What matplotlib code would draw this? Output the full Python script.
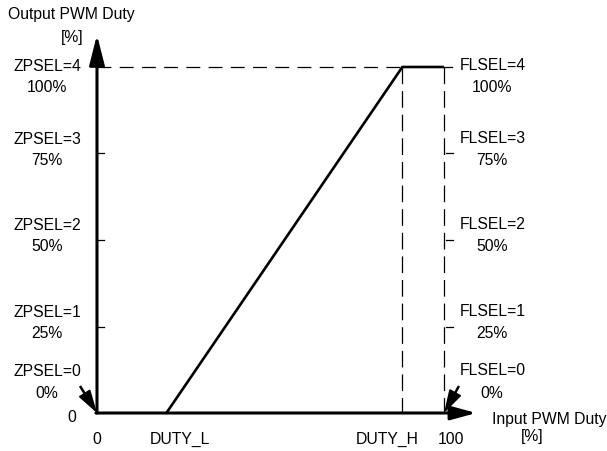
import matplotlib
matplotlib.use("Agg")
import matplotlib.pyplot as plt
from matplotlib.patches import FancyArrowPatch

# ---- data ----
duty_l = 20          # input duty where output starts rising
duty_h = 88          # input duty where output reaches 100 %
x_end = 100
out_levels = [0, 25, 50, 75, 100]
zp_labels = ["ZPSEL=0", "ZPSEL=1", "ZPSEL=2", "ZPSEL=3", "ZPSEL=4"]
fl_labels = ["FLSEL=0", "FLSEL=1", "FLSEL=2", "FLSEL=3", "FLSEL=4"]
pct_labels = ["0%", "25%", "50%", "75%", "100%"]
x_tick_vals = [0, duty_l, duty_h, x_end]
x_tick_labels = ["0", "DUTY_L", "DUTY_H", "100"]
curve_x = [duty_l, duty_h, x_end]
curve_y = [0, 100, 100]

# ---- layout ----
plt.rcParams['font.family'] = ['Liberation Sans', 'DejaVu Sans']
plt.rcParams['lines.scale_dashes'] = False
FS = 11.3
fig = plt.figure(figsize=(6.07, 4.51), dpi=100)
ax = fig.add_axes([0, 0, 1, 1])
ax.set_xlim(-27.95, 146.97)
ax.set_ylim(-10.98, 119.36)
ax.axis("off")

AX_MAX = 109.3

# axes with arrows
ax.annotate("", xy=(0, AX_MAX), xytext=(0, 0),
            arrowprops=dict(arrowstyle="-|>,head_length=1.3,head_width=0.33",
                            lw=2.2, color="black", mutation_scale=14,
                            shrinkA=0, shrinkB=0))
ax.annotate("", xy=(AX_MAX, 0), xytext=(-0.3, 0),
            arrowprops=dict(arrowstyle="-|>,head_length=1.1,head_width=0.3",
                            lw=2.2, color="black", mutation_scale=14,
                            shrinkA=0, shrinkB=0))

# dashed guide lines
ax.plot([0, duty_h], [100, 100], color="black", lw=0.9, dashes=(10, 6))
ax.plot([duty_h, duty_h], [100, 0], color="black", lw=0.9, dashes=(12, 5))
ax.plot([x_end, x_end], [100, 0], color="black", lw=0.9, dashes=(12, 5))
ax.plot([x_end, x_end + 2.2], [100, 100], color="black", lw=0.9)

# transfer curve
ax.plot(curve_x, curve_y, color="black", lw=1.9, solid_capstyle="butt")

# ticks on the left axis and right side
for v in out_levels[1:4]:
    ax.plot([0, 2.0], [v, v], color="black", lw=0.9)
    ax.plot([x_end + 0.6, x_end + 2.6], [v, v], color="black", lw=0.9)

# level labels (offsets in pixels: name, percent)
offs = {0: (42, 20), 25: (14, -7), 50: (14, -7), 75: (14, -7), 100: (0, -21)}
for v, zl, fl, pl in zip(out_levels, zp_labels, fl_labels, pct_labels):
    o1, o2 = offs[v]
    ax.annotate(zl, (0, v), xytext=(-50, o1), textcoords="offset pixels",
                ha="center", va="center", fontsize=FS)
    ax.annotate(pl, (0, v), xytext=(-50, o2), textcoords="offset pixels",
                ha="center", va="center", fontsize=FS)
    ax.annotate(fl, (x_end, v), xytext=(49, o1 + 1), textcoords="offset pixels",
                ha="center", va="center", fontsize=FS)
    ax.annotate(pl, (x_end, v), xytext=(48, o2), textcoords="offset pixels",
                ha="center", va="center", fontsize=FS)

# pointer arrows to the 0 % corners (start points offset in data units)
for xv, dx in [(0, -4.9), (x_end, 4.3)]:
    ax.plot([xv + dx, xv + dx * 0.3], [7.8, 7.8 * 0.3], color="black",
            lw=1.8, solid_capstyle="butt")
    ax.add_patch(FancyArrowPatch((xv + dx * 0.6, 7.8 * 0.6), (xv, 0),
                                 arrowstyle="-|>,head_length=1.2,head_width=0.35",
                                 lw=1.2, color="black", mutation_scale=12,
                                 shrinkA=0, shrinkB=0))

# x labels
x_offsets = [0, 14, -15, 7]
for xv, lab, dx in zip(x_tick_vals, x_tick_labels, x_offsets):
    ax.annotate(lab, (xv, 0), xytext=(dx, -26), textcoords="offset pixels",
                ha="center", va="center", fontsize=FS)
ax.annotate("0", (0, 0), xytext=(-25, -4), textcoords="offset pixels",
            ha="center", va="center", fontsize=FS)

# axis titles
ax.annotate("Output PWM Duty", (0, AX_MAX), xytext=(-26, 20),
            textcoords="offset pixels", ha="center", va="center", fontsize=FS)
ax.annotate("[%]", (0, AX_MAX), xytext=(-25, -3),
            textcoords="offset pixels", ha="center", va="center", fontsize=FS)
ax.annotate("Input PWM Duty", (AX_MAX, 0), xytext=(73, -6),
            textcoords="offset pixels", ha="center", va="center", fontsize=FS)
ax.annotate("[%]", (AX_MAX, 0), xytext=(56, -23),
            textcoords="offset pixels", ha="center", va="center", fontsize=FS)

fig.savefig("out.png", dpi=100)
